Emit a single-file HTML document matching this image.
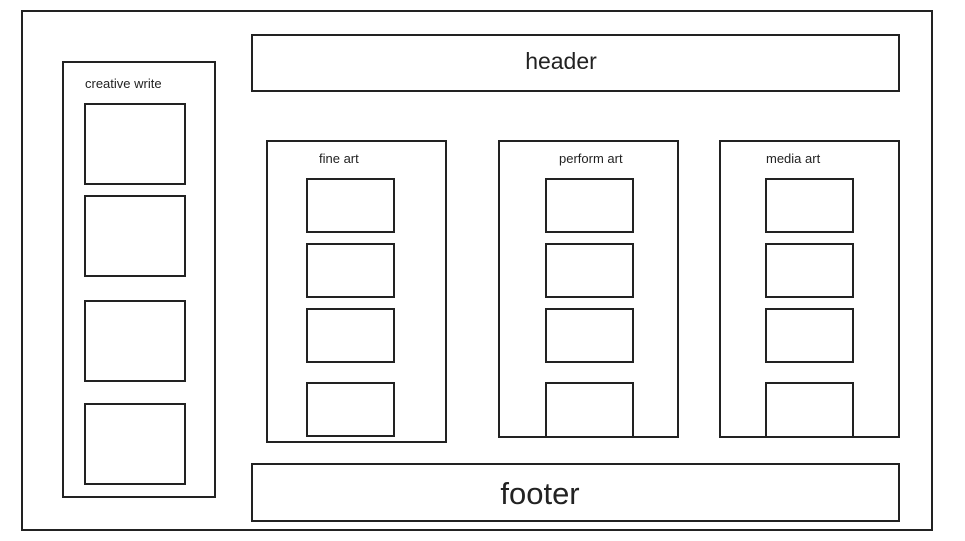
<!DOCTYPE html>
<html><head><meta charset="utf-8"><style>
body{margin:0;width:965px;height:541px;background:#fff;position:relative;overflow:hidden;font-family:"Liberation Sans",Arial,sans-serif;color:#222}
.b{position:absolute;border:2px solid #222;box-sizing:border-box;background:#fff}
.t{position:absolute;white-space:nowrap}
</style></head><body>
<div class="b" style="left:21px;top:10px;width:912px;height:521px"></div>

<div class="b" style="left:62px;top:61px;width:154px;height:437px"></div>
<div class="t" style="left:85px;top:76px;font-size:13px">creative write</div>
<div class="b" style="left:84px;top:103px;width:102px;height:82px"></div>
<div class="b" style="left:84px;top:195px;width:102px;height:82px"></div>
<div class="b" style="left:84px;top:300px;width:102px;height:82px"></div>
<div class="b" style="left:84px;top:403px;width:102px;height:82px"></div>

<div class="b" style="left:251px;top:34px;width:649px;height:58px"></div>
<div class="t" style="left:251px;width:620px;text-align:center;top:48px;font-size:23px">header</div>

<div class="b" style="left:266px;top:140px;width:181px;height:303px"></div>
<div class="t" style="left:319px;top:151px;font-size:13px">fine art</div>
<div class="b" style="left:306px;top:178px;width:89px;height:55px"></div>
<div class="b" style="left:306px;top:243px;width:89px;height:55px"></div>
<div class="b" style="left:306px;top:308px;width:89px;height:55px"></div>
<div class="b" style="left:306px;top:382px;width:89px;height:55px"></div>

<div class="b" style="left:498px;top:140px;width:181px;height:298px"></div>
<div class="t" style="left:559px;top:151px;font-size:13px">perform art</div>
<div class="b" style="left:545px;top:178px;width:89px;height:55px"></div>
<div class="b" style="left:545px;top:243px;width:89px;height:55px"></div>
<div class="b" style="left:545px;top:308px;width:89px;height:55px"></div>
<div class="b" style="left:545px;top:382px;width:89px;height:56px"></div>

<div class="b" style="left:719px;top:140px;width:181px;height:298px"></div>
<div class="t" style="left:766px;top:151px;font-size:13px">media art</div>
<div class="b" style="left:765px;top:178px;width:89px;height:55px"></div>
<div class="b" style="left:765px;top:243px;width:89px;height:55px"></div>
<div class="b" style="left:765px;top:308px;width:89px;height:55px"></div>
<div class="b" style="left:765px;top:382px;width:89px;height:56px"></div>

<div class="b" style="left:251px;top:463px;width:649px;height:59px"></div>
<div class="t" style="left:251px;width:578px;text-align:center;top:476px;font-size:31px">footer</div>
</body></html>
